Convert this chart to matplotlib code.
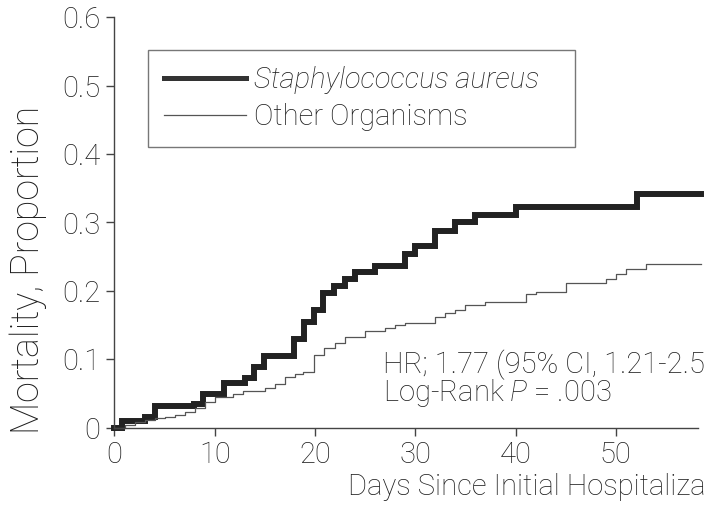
import matplotlib
matplotlib.use("Agg")
import matplotlib.pyplot as plt

# ---- data ----
staph_days = [0, 0.7, 3.0, 4.0, 7.9, 8.8, 10.9, 13.0, 13.9, 14.9, 17.9, 18.9, 19.9,
              20.8, 21.9, 23.0, 24.0, 26.0, 29.0, 30.0, 32.0, 34.0, 36.0, 40.0, 52.1, 58.5]
staph_mort = [0, 0.009, 0.015, 0.032, 0.035, 0.049, 0.065, 0.073, 0.088, 0.104, 0.129,
              0.155, 0.172, 0.197, 0.207, 0.217, 0.227, 0.236, 0.254, 0.265, 0.288,
              0.300, 0.311, 0.323, 0.342, 0.342]

other_days = [0, 1.0, 2.0, 3.0, 4.0, 5.0, 6.0, 7.0, 8.0, 9.0, 10.0, 11.8, 12.8, 15.0,
              16.0, 17.0, 18.0, 18.8, 19.9, 20.9, 22.0, 23.0, 25.0, 27.0, 28.0, 29.0,
              32.0, 33.0, 34.0, 35.0, 37.0, 41.0, 42.0, 45.0, 49.0, 50.0, 51.0, 53.0, 58.5]
other_mort = [0, 0.004, 0.008, 0.011, 0.014, 0.016, 0.019, 0.023, 0.029, 0.038, 0.045,
              0.049, 0.053, 0.058, 0.063, 0.074, 0.079, 0.081, 0.106, 0.116, 0.124,
              0.133, 0.141, 0.146, 0.150, 0.153, 0.161, 0.168, 0.172, 0.180, 0.183,
              0.195, 0.199, 0.212, 0.218, 0.225, 0.232, 0.240, 0.240]

series_labels = ["Staphylococcus aureus", "Other Organisms"]
x_ticks = [0, 10, 20, 30, 40, 50]
y_ticks = [0, 0.1, 0.2, 0.3, 0.4, 0.5, 0.6]
y_tick_labels = ["0", "0.1", "0.2", "0.3", "0.4", "0.5", "0.6"]
x_label = "Days Since Initial Hospitalization"
y_label = "Mortality, Proportion"
hr_text = "HR; 1.77 (95% CI, 1.21-2.57)"
p_text = "Log-Rank $P$ = .003"

FONT = ["Roboto", "DejaVu Sans"]
plt.rcParams["font.family"] = FONT
plt.rcParams["font.weight"] = "light"
plt.rcParams["mathtext.fontset"] = "custom"
plt.rcParams["mathtext.rm"] = "Roboto:light"
plt.rcParams["mathtext.it"] = "Roboto:italic:light"
TXT = "#1e1e1e"
FS = 21

W, H = 704, 511
fig = plt.figure(figsize=(W / 100, H / 100), dpi=100)
ax_left, ax_right = 114.5 / W, 698 / W
ax_bottom, ax_top = (H - 427.5) / H, (H - 17.5) / H
ax = fig.add_axes([ax_left, ax_bottom, ax_right - ax_left, ax_top - ax_bottom])

ax.step(staph_days, staph_mort, where="post", color="#222222", lw=4.3,
        solid_joinstyle="miter", label=series_labels[0], clip_on=False)
ax.step(other_days, other_mort, where="post", color="#555555", lw=0.9,
        label=series_labels[1], clip_on=False)

ax.set_xlim(0, 58.2)
ax.set_ylim(0, 0.6)
ax.set_xticks(x_ticks)
ax.set_yticks(y_ticks)
ax.set_yticklabels(y_tick_labels)
for s in ["top", "right"]:
    ax.spines[s].set_visible(False)
for s in ["left", "bottom"]:
    ax.spines[s].set_color("#444444")
    ax.spines[s].set_linewidth(1.0)
ax.tick_params(direction="out", length=6, width=1.0, color="#444444",
               labelsize=FS, labelcolor=TXT, pad=4)

# legend
leg = ax.legend(loc="upper left",
                bbox_to_anchor=((148 - 114.5) / (698 - 114.5), (427.5 - 50) / 410, (575 - 148) / (698 - 114.5), 0.0),
                mode="expand", frameon=True, fancybox=False, fontsize=FS,
                handlelength=2.8, handletextpad=0.3, borderpad=0.55,
                labelspacing=0.32, borderaxespad=0)
leg.get_frame().set_edgecolor("#555555")
leg.get_frame().set_linewidth(1.0)
for t in leg.get_texts():
    t.set_color(TXT)
leg.get_texts()[0].set_fontstyle("italic")
leg.get_lines()[0].set_linewidth(3.6)
leg.get_lines()[0].set_color("#333333")

# annotations
ax.text(26.8, (427.5 - 365) / 683, hr_text, fontsize=FS, color=TXT,
        ha="left", va="center", clip_on=False)
ax.text(26.8, (427.5 - 393) / 683, p_text, fontsize=FS, color=TXT,
        ha="left", va="center", clip_on=False)

fig.text(348 / W, 1 - 487 / H, x_label, fontsize=FS, color=TXT, ha="left", va="center")
fig.text(28 / W, 1 - 270 / H, y_label, fontsize=27, color=TXT, ha="center",
         va="center", rotation=90)

fig.savefig("out.png", dpi=100)
